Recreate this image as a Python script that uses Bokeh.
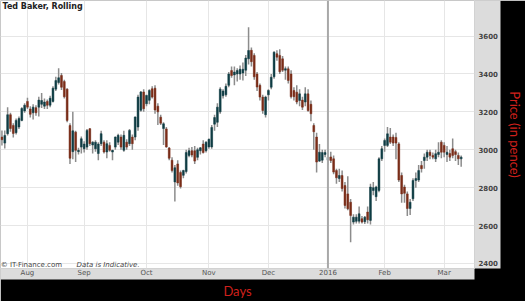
from bokeh.plotting import figure
from bokeh.models import Range1d, FixedTicker, LinearAxis, Span, Label, ColumnDataSource, Grid
from bokeh.embed import file_html
from bokeh.resources import INLINE

# trading-day index (1 = 21 Jul 2015 ... 163 = 9 Mar 2016)
day_index = list(range(1, 164))
opens = [3067, 3035, 3085, 3185, 3128, 3090, 3120, 3155, 3205, 3255,
         3215, 3195, 3222, 3225, 3240, 3230, 3255, 3235, 3255, 3320,
         3355, 3392, 3360, 3320, 3128, 2990, 3093, 2990, 3014, 3005,
         3014, 3111, 3025, 3005, 2980, 3032, 3040, 2988, 3023, 2988,
         3014, 3040, 3067, 2997, 3040, 3032, 3067, 3067, 3120, 3208,
         3305, 3243, 3261, 3322, 3325, 3230, 3172, 3112, 3110, 3009,
         2945, 2830, 2925, 2880, 2865, 2885, 2970, 2995, 2995, 2960,
         2995, 3030, 2995, 3015, 3015, 3135, 3145, 3200, 3285, 3290,
         3340, 3418, 3395, 3400, 3400, 3405, 3420, 3480, 3525, 3498,
         3400, 3340, 3278, 3185, 3290, 3330, 3385, 3507, 3498, 3480,
         3420, 3427, 3400, 3313, 3304, 3260, 3262, 3252, 3295, 3240,
         3128, 3067, 2940, 2945, 2975, 2945, 2962, 2952, 2890, 2848,
         2864, 2811, 2767, 2723, 2618, 2622, 2623, 2636, 2620, 2671,
         2627, 2785, 2752, 2785, 2952, 3023, 3023, 3067, 3067, 3065,
         3031, 2864, 2803, 2767, 2690, 2741, 2838, 2840, 2917, 2943,
         2961, 2987, 2970, 2952, 2975, 3040, 3023, 2975, 2980, 3005,
         2990, 2970, 2952]
highs = [3102, 3102, 3225, 3195, 3140, 3165, 3175, 3225, 3245, 3275,
         3230, 3240, 3235, 3280, 3300, 3270, 3265, 3285, 3335, 3385,
         3430, 3405, 3370, 3325, 3140, 3200, 3100, 3010, 3070, 3045,
         3110, 3115, 3045, 3050, 3040, 3100, 3050, 3050, 3040, 3000,
         3070, 3085, 3080, 3100, 3055, 3110, 3080, 3175, 3290, 3310,
         3320, 3290, 3320, 3335, 3340, 3245, 3185, 3145, 3120, 3015,
         2960, 2920, 2945, 2890, 2895, 3000, 3010, 3015, 3020, 3010,
         3015, 3050, 3045, 3060, 3130, 3185, 3245, 3330, 3320, 3350,
         3410, 3440, 3440, 3430, 3445, 3460, 3500, 3647, 3540, 3510,
         3410, 3350, 3290, 3285, 3320, 3400, 3520, 3525, 3530, 3495,
         3440, 3440, 3420, 3330, 3340, 3320, 3280, 3330, 3320, 3260,
         3140, 3090, 3030, 3000, 3000, 3000, 2990, 2970, 2900, 2900,
         2890, 2830, 2860, 2740, 2660, 2660, 2700, 2650, 2650, 2700,
         2820, 2830, 2810, 2960, 3020, 3060, 3120, 3115, 3080, 3090,
         3040, 2880, 2815, 2780, 2740, 2850, 2880, 2920, 2940, 2980,
         3000, 3000, 2985, 3000, 3040, 3050, 3040, 3020, 3000, 3060,
         3000, 2985, 2970]
lows = [3022, 3007, 3075, 3095, 3065, 3080, 3110, 3150, 3195, 3215,
        3170, 3160, 3180, 3175, 3220, 3215, 3215, 3225, 3250, 3310,
        3345, 3315, 3270, 3145, 2925, 2950, 2935, 2975, 2980, 2985,
        3000, 3020, 2980, 2990, 2945, 3020, 2980, 2955, 2990, 2945,
        3000, 3025, 3000, 2990, 3000, 3020, 3000, 3050, 3100, 3200,
        3200, 3230, 3240, 3270, 3190, 3130, 3130, 3025, 3010, 2945,
        2880, 2727, 2810, 2795, 2850, 2875, 2960, 2960, 2925, 2945,
        2975, 2980, 2985, 3005, 3005, 3100, 3120, 3190, 3270, 3280,
        3330, 3380, 3340, 3360, 3370, 3365, 3390, 3450, 3440, 3370,
        3310, 3260, 3190, 3170, 3260, 3320, 3375, 3470, 3400, 3410,
        3370, 3350, 3270, 3260, 3240, 3230, 3210, 3230, 3200, 3150,
        3000, 2880, 2935, 2930, 2960, 2920, 2930, 2870, 2820, 2830,
        2780, 2690, 2680, 2512, 2605, 2610, 2610, 2610, 2608, 2610,
        2605, 2760, 2730, 2775, 2940, 2990, 3015, 3030, 3020, 2950,
        2830, 2720, 2720, 2650, 2655, 2730, 2800, 2830, 2880, 2900,
        2940, 2950, 2950, 2935, 2960, 2955, 2960, 2935, 2940, 2955,
        2940, 2920, 2910]
closes = [3053, 3075, 3185, 3112, 3086, 3155, 3165, 3218, 3235, 3225,
          3187, 3225, 3195, 3262, 3260, 3252, 3235, 3272, 3325, 3365,
          3380, 3330, 3280, 3155, 2955, 3100, 2997, 2997, 3058, 3030,
          3102, 3032, 3040, 3040, 3030, 3085, 2988, 3032, 2997, 2997,
          3067, 3076, 3014, 3076, 3014, 3102, 3032, 3173, 3278, 3305,
          3217, 3287, 3313, 3278, 3210, 3200, 3140, 3137, 3015, 2955,
          2890, 2905, 2825, 2805, 2890, 2985, 2995, 2972, 2940, 3000,
          3010, 2985, 3040, 3055, 3118, 3170, 3225, 3320, 3310, 3335,
          3400, 3392, 3410, 3418, 3425, 3425, 3484, 3524, 3465, 3385,
          3331, 3278, 3207, 3278, 3313, 3383, 3515, 3489, 3412, 3420,
          3428, 3366, 3280, 3280, 3252, 3295, 3225, 3295, 3207, 3190,
          3095, 2935, 2987, 2985, 2985, 2960, 2943, 2882, 2852, 2864,
          2795, 2706, 2688, 2653, 2644, 2644, 2662, 2618, 2644, 2630,
          2803, 2800, 2803, 2952, 3005, 3049, 3084, 3040, 3035, 3035,
          2840, 2767, 2770, 2690, 2723, 2838, 2848, 2890, 2900, 2961,
          2987, 2970, 2961, 2979, 2987, 2987, 2987, 2987, 2961, 2970,
          2975, 2952, 2961]

month_ticks = [10, 30, 52, 74, 95, 116, 136, 157]
month_labels = ["Aug", "Sep", "Oct", "Nov", "Dec", "2016", "Feb", "Mar"]
price_ticks = [2400, 2600, 2800, 3000, 3200, 3400, 3600]

UP = "#0f3d44"
DOWN = "#7b2d18"
colors = [UP if c >= o else DOWN for o, c in zip(opens, closes)]
src = ColumnDataSource(dict(
    x=day_index, high=highs, low=lows,
    top=[max(o, c) for o, c in zip(opens, closes)],
    bottom=[min(o, c) for o, c in zip(opens, closes)],
    color=colors))

p = figure(width=525, height=301, output_backend="svg", toolbar_location=None,
           x_range=Range1d(0.49, 167.7), y_range=Range1d(2373, 3788),
           x_axis_location=None, y_axis_location=None,
           min_border_left=0, min_border_top=0, min_border_right=50, min_border_bottom=33,
           background_fill_color="white", border_fill_color="black",
           outline_line_color="#c8c8c8")
p.xgrid.visible = False
p.ygrid.visible = False

xticker = FixedTicker(ticks=month_ticks)
yticker = FixedTicker(ticks=price_ticks)

p.add_layout(Grid(dimension=0, ticker=xticker, grid_line_color="#e6e6e6", grid_line_width=1))
p.add_layout(Grid(dimension=1, ticker=yticker, grid_line_color="#e6e6e6", grid_line_width=1))


def strip_ticks(ax):
    ax.axis_line_color = None
    ax.major_tick_line_color = None
    ax.minor_tick_line_color = None
    ax.major_tick_out = 0
    ax.major_tick_in = 0
    ax.minor_tick_out = 0
    ax.minor_tick_in = 0


overrides = {t: l for t, l in zip(month_ticks, month_labels)}
xax = LinearAxis(ticker=xticker, major_label_overrides=overrides)
strip_ticks(xax)
xax.background_fill_color = "#dcdcdc"
xax.major_label_text_font = "DejaVu Sans"
xax.major_label_text_font_size = "7px"
xax.major_label_text_color = "#555555"
xax.major_label_standoff = 0
p.add_layout(xax, "below")

xax2 = LinearAxis(ticker=FixedTicker(ticks=[]), axis_label="Days")
strip_ticks(xax2)
xax2.major_label_standoff = 0
xax2.axis_label_text_color = "#d0201c"
xax2.axis_label_text_font = "Lato"
xax2.axis_label_text_font_size = "13px"
xax2.axis_label_text_font_style = "normal"
xax2.axis_label_standoff = 3
p.add_layout(xax2, "below")

yax = LinearAxis(ticker=yticker)
strip_ticks(yax)
yax.background_fill_color = "#dcdcdc"
yax.major_label_text_font = "DejaVu Sans"
yax.major_label_text_font_size = "7px"
yax.major_label_text_font_style = "bold"
yax.major_label_text_color = "#444444"
yax.major_label_standoff = 4
p.add_layout(yax, "right")

yax2 = LinearAxis(ticker=FixedTicker(ticks=[]), axis_label="Price (in pence)")
strip_ticks(yax2)
yax2.major_label_standoff = 0
yax2.axis_label_text_color = "#d0201c"
yax2.axis_label_text_font = "Lato"
yax2.axis_label_text_font_size = "13px"
yax2.axis_label_text_font_style = "normal"
yax2.axis_label_standoff = 6
p.add_layout(yax2, "right")

p.add_layout(Span(location=116, dimension="height", line_color="#a8a8a8", line_width=2))

p.segment(x0="x", y0="low", x1="x", y1="high", source=src, line_color="#8c8c8c", line_width=1.5)
p.vbar(x="x", width=0.65, top="top", bottom="bottom", source=src,
       fill_color="color", line_color="color", line_width=0.5)

p.add_layout(Label(x=1.2, y=3782, text="Ted Baker, Rolling", text_font="DejaVu Sans",
                   text_font_size="8px", text_font_style="bold", text_baseline="top",
                   text_color="#222222"))
p.add_layout(Label(x=0.55, y=2394, text="\u00a9 IT-Finance.com", text_font="DejaVu Sans",
                   text_font_size="7px", text_baseline="middle", text_color="#444444"))
p.add_layout(Label(x=27.3, y=2394, text="Data is Indicative.", text_font="DejaVu Sans",
                   text_font_size="7px", text_font_style="italic", text_baseline="middle",
                   text_color="#444444"))

open("out.html", "w").write(file_html(p, INLINE))
